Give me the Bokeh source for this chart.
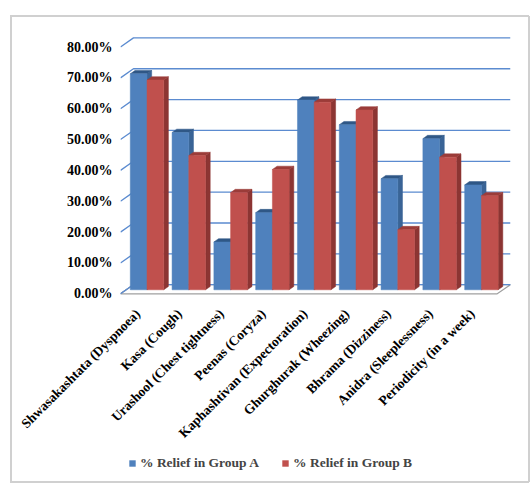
import math
from bokeh.plotting import figure
from bokeh.layouts import column
from bokeh.models import (FixedTicker, PrintfTickFormatter, Legend, LegendItem,
                          ColumnDataSource, Range1d)
from bokeh.embed import file_html
from bokeh.resources import INLINE

categories = ["Shwasakashtata (Dyspnoea)", "Kasa (Cough)", "Urashool (Chest tightness)",
              "Peenas (Coryza)", "Kaphashtivan (Expectoration)", "Ghurghurak (Wheezing)",
              "Bhrama (Dizziness)", "Anidra (Sleeplessness)", "Periodicity (in a week)"]
group_a = [70.0, 51.0, 15.5, 25.0, 61.5, 53.5, 36.0, 49.0, 34.0]
group_b = [68.0, 43.5, 31.5, 39.0, 60.8, 58.3, 19.5, 43.0, 30.5]
series_names = ["% Relief in Group A", "% Relief in Group B"]
y_ticks = [0, 10, 20, 30, 40, 50, 60, 70, 80]

FONT = "Liberation Serif"
BLUE, BLUE_SIDE, BLUE_TOP = "#4F81BD", "#3A6496", "#2F5786"
RED, RED_SIDE, RED_TOP = "#C0504D", "#8C3533", "#9B3C39"
GRID = "#5B8BD0"

x0, x1 = -0.634, 8.696
y0, y1 = -1.2, 85.35
wall_dx, wall_dy = 0.31, 2.95      # depth of the 3-D box
bar_w, off = 0.4, 0.2               # bar width and offset from category centre
side_dx, top_dy = 0.112, 1.07       # bar depth
lift = 1.3                           # bars stand in the middle of the floor
label_shift = 0.22                   # category labels sit a little left of the bars

MAIN_H, LEG_H = 450, 33
p = figure(width=531, height=MAIN_H, output_backend="svg", toolbar_location=None,
           x_range=Range1d(x0, x1), y_range=Range1d(y0, y1),
           min_border_left=120, min_border_right=21, min_border_top=30,
           min_border_bottom=MAIN_H - 297)
p.outline_line_color = None
p.grid.visible = False
p.background_fill_color = "white"
p.border_fill_color = None

# back wall gridlines with their diagonal floor-side start
for v in y_ticks:
    p.line([x0, x0 + wall_dx, x1], [v, v + wall_dy, v + wall_dy],
           line_color=GRID, line_width=1.3)

# floor
p.patch([x0, 8.378, x1, x0 + wall_dx], [0, 0, wall_dy, wall_dy],
        fill_color="white", line_color="#A0A0A0", line_width=1.2)
p.line([x0 + wall_dx, x1], [wall_dy, wall_dy], line_color=GRID, line_width=1.3)
p.line([x0, x0 + wall_dx], [0, wall_dy], line_color=GRID, line_width=1.3)

xs = list(range(len(categories)))
for vals, sign, (front, side, top) in [(group_a, -1, (BLUE, BLUE_SIDE, BLUE_TOP)),
                                       (group_b, 1, (RED, RED_SIDE, RED_TOP))]:
    cx = [x + sign * off for x in xs]
    side_x = [[c + bar_w / 2, c + bar_w / 2 + side_dx, c + bar_w / 2 + side_dx, c + bar_w / 2]
              for c in cx]
    side_y = [[lift, lift + top_dy, v + lift + top_dy, v + lift] for v in vals]
    top_x = [[c - bar_w / 2, c + bar_w / 2, c + bar_w / 2 + side_dx, c - bar_w / 2 + side_dx]
             for c in cx]
    top_y = [[v + lift, v + lift, v + lift + top_dy, v + lift + top_dy] for v in vals]
    p.patches(side_x, side_y, fill_color=side, line_color=side, line_width=0.5)
    p.patches(top_x, top_y, fill_color=top, line_color=top, line_width=0.5)
    src = ColumnDataSource(dict(x=cx, top=[v + lift for v in vals]))
    p.vbar(x="x", top="top", bottom=lift, width=bar_w, source=src,
           fill_color=front, line_color=front, line_width=0.5)

# axes
tick_pos = [round(x - label_shift, 2) for x in xs]
p.yaxis.ticker = FixedTicker(ticks=y_ticks)
p.yaxis.formatter = PrintfTickFormatter(format="%.2f%%")
p.xaxis.ticker = FixedTicker(ticks=tick_pos)
p.xaxis.major_label_overrides = {t: c for t, c in zip(tick_pos, categories)}
p.xaxis.major_label_orientation = math.pi / 4
for ax in (p.xaxis, p.yaxis):
    ax.axis_line_color = None
    ax.major_tick_line_color = None
    ax.minor_tick_line_color = None
    ax.major_tick_out = 0
    ax.major_label_text_font = FONT
    ax.major_label_text_font_style = "bold"
    ax.major_label_text_color = "black"
p.yaxis.major_label_text_font_size = "14px"
p.xaxis.major_label_text_font_size = "13.5px"
p.yaxis.major_label_standoff = 8
p.xaxis.major_label_standoff = 14

# legend strip (frames of the column are aligned, so x is relative to x=120)
q = figure(width=531, height=LEG_H, output_backend="svg", toolbar_location=None,
           x_range=Range1d(0, 1), y_range=Range1d(0, 1),
           min_border=0, x_axis_type=None, y_axis_type=None)
q.outline_line_color = None
q.grid.visible = False
q.background_fill_color = None
q.border_fill_color = None
# zero-height twins of the series: they only supply the legend swatches
ra = q.vbar(x=xs, top=0, bottom=0, width=bar_w, fill_color=BLUE, line_color=None)
rb = q.vbar(x=xs, top=0, bottom=0, width=bar_w, fill_color=RED, line_color=None)
legend = Legend(items=[LegendItem(label=series_names[0], renderers=[ra]),
                       LegendItem(label=series_names[1], renderers=[rb])],
                orientation="horizontal", location=(8, 12),
                label_text_font=FONT, label_text_font_style="bold",
                label_text_font_size="13.5px", glyph_width=8, glyph_height=8,
                label_standoff=4, spacing=22, padding=0, margin=0,
                border_line_color=None, background_fill_alpha=0)
q.add_layout(legend, "center")

page = column(p, q, spacing=0)
line = "linear-gradient(#D0D0D0,#D0D0D0)"
page.styles = {
    "background-color": "white",
    "background-image": ", ".join([line] * 4),
    "background-size": "2px 466px, 519px 2px, 2px 466px, 519px 2px",
    "background-position": "10px 16px, 10px 15px, 528px 16px, 10px 481px",
    "background-repeat": "no-repeat",
}

open("out.html", "w").write(file_html(page, INLINE))
